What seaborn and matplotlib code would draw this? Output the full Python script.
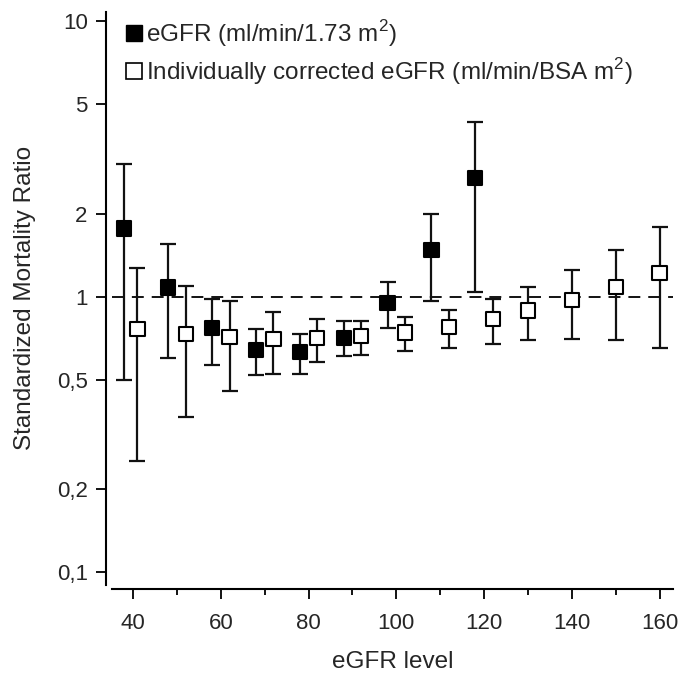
import numpy as np
import pandas as pd
import seaborn as sns
import matplotlib.pyplot as plt
from matplotlib.lines import Line2D
from matplotlib.ticker import FixedLocator, FixedFormatter, NullLocator

# eGFR (ml/min/1.73 m2) - filled squares
std_x = [38, 48, 58, 68, 78, 88, 98, 108, 118]
std_smr = [1.77, 1.08, 0.77, 0.64, 0.63, 0.71, 0.95, 1.48, 2.69]
std_lo = [0.50, 0.60, 0.565, 0.52, 0.523, 0.607, 0.77, 0.965, 1.04]
std_hi = [3.03, 1.56, 0.978, 0.763, 0.73, 0.818, 1.128, 2.0, 4.32]

# individually corrected eGFR (ml/min/BSA m2) - open squares
ind_x = [41, 52, 62, 72, 82, 92, 102, 112, 122, 130, 140, 150, 160]
ind_smr = [0.763, 0.732, 0.712, 0.704, 0.706, 0.718, 0.742, 0.778, 0.828, 0.892, 0.975, 1.084, 1.222]
ind_lo = [0.254, 0.367, 0.456, 0.525, 0.581, 0.614, 0.637, 0.653, 0.674, 0.694, 0.704, 0.697, 0.651]
ind_hi = [1.27, 1.096, 0.967, 0.88, 0.83, 0.818, 0.844, 0.897, 0.978, 1.087, 1.247, 1.474, 1.795]

y_ticks = [0.1, 0.2, 0.5, 1, 2, 5, 10]
y_labels = ["0,1", "0,2", "0,5", "1", "2", "5", "10"]
x_ticks = [40, 60, 80, 100, 120, 140, 160]

sns.set_style("ticks")
plt.rcParams['font.family'] = ['Liberation Sans', 'DejaVu Sans']
plt.rcParams['mathtext.fontset'] = 'custom'
plt.rcParams['mathtext.rm'] = 'Liberation Sans'

df = pd.concat([
    pd.DataFrame({"x": std_x, "smr": std_smr, "lo": std_lo, "hi": std_hi, "kind": "std"}),
    pd.DataFrame({"x": ind_x, "smr": ind_smr, "lo": ind_lo, "hi": ind_hi, "kind": "ind"}),
])

fig = plt.figure(figsize=(6.8, 6.74), dpi=100)
ax = fig.add_axes([0.1647, 0.132, 0.8246, 0.8506])
ax.set_yscale("log")
ax.set_xlim(35.2, 163)
ax.set_ylim(0.0898, 10.83)

# reference line
ax.axhline(1, color="black", lw=1.3, dashes=(6.6, 4.4), zorder=1)

# error bars
for kind, g in df.groupby("kind"):
    ax.errorbar(g["x"], g["smr"], yerr=[g["smr"] - g["lo"], g["hi"] - g["smr"]],
                fmt="none", ecolor="#111111", elinewidth=1.6, capsize=5.5,
                capthick=1.6, zorder=2)

sns.scatterplot(data=df, x="x", y="smr", hue="kind", style="kind",
                palette={"std": "black", "ind": "white"},
                markers={"std": "s", "ind": "s"}, s=105,
                edgecolor="black", linewidth=1.5, legend=False, ax=ax, zorder=3)

ax.yaxis.set_major_locator(FixedLocator(y_ticks))
ax.yaxis.set_major_formatter(FixedFormatter(y_labels))
ax.yaxis.set_minor_locator(NullLocator())
ax.set_xticks(x_ticks)
ax.set_xticks([50, 70, 90, 110, 130, 150], minor=True)

ax.tick_params(axis="both", which="major", labelsize=16, width=1.3, length=7, color="black")
ax.tick_params(axis="y", pad=6)
ax.tick_params(axis="x", pad=10)
ax.tick_params(axis="x", which="minor", width=1.3, length=4.5, color="black")

for side in ["top", "right"]:
    ax.spines[side].set_visible(False)
ax.spines["left"].set_position(("outward", 4.5))
ax.spines["bottom"].set_position(("outward", 3.2))
for side in ["left", "bottom"]:
    ax.spines[side].set_linewidth(1.5)
    ax.spines[side].set_color("black")

ax.set_xlabel("eGFR level", fontsize=17.5, labelpad=12)
ax.set_ylabel("Standardized Mortality Ratio", fontsize=17.5, labelpad=15)

handles = [
    Line2D([], [], ls="none", marker="s", ms=11, mfc="black", mec="black"),
    Line2D([], [], ls="none", marker="s", ms=11, mfc="white", mec="black", mew=1.2),
]
ax.legend(handles, [r"eGFR (ml/min/1.73 m$^2$)",
                    r"Individually corrected eGFR (ml/min/BSA m$^2$)"],
          loc="upper left", bbox_to_anchor=(0.0, 1.015), frameon=False,
          fontsize=17.5, handlelength=0.6, handletextpad=0.2, labelspacing=0.3,
          borderaxespad=0.2)

fig.savefig("out.png", dpi=100)
